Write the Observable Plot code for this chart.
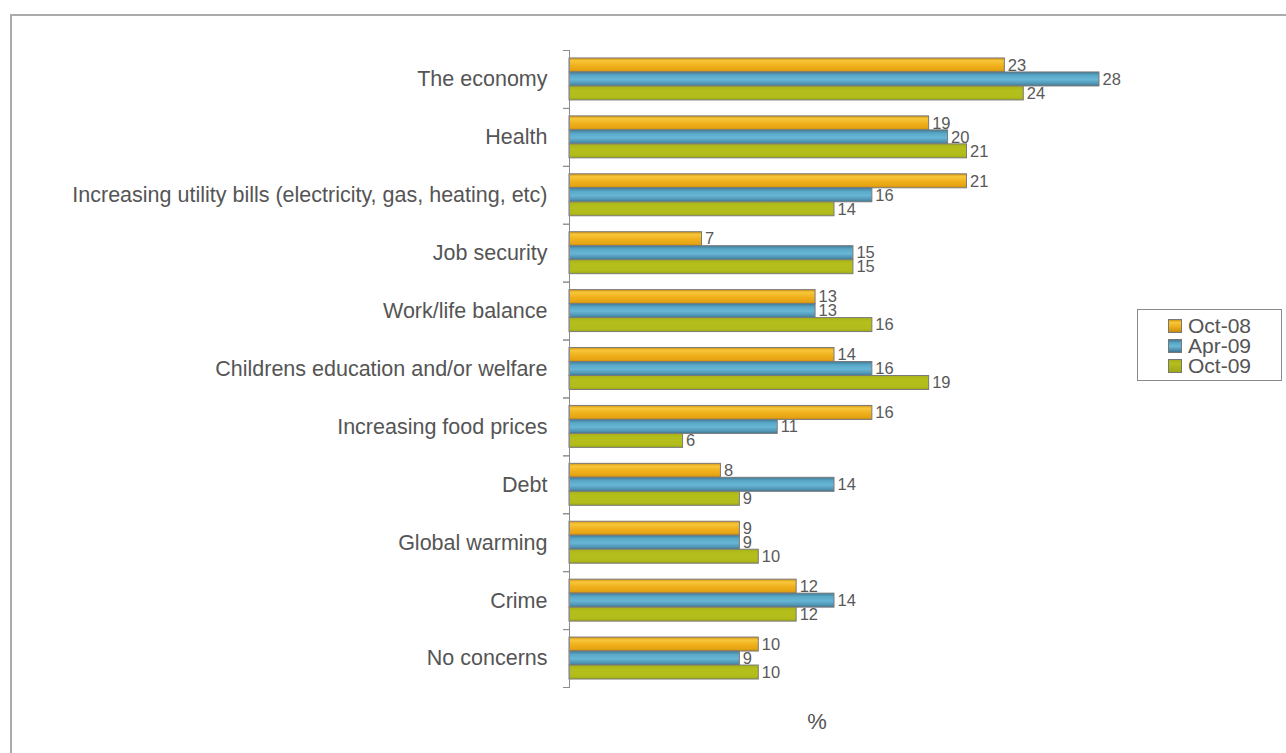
<!DOCTYPE html>
<html>
<head>
<meta charset="utf-8">
<script src="https://cdn.jsdelivr.net/npm/d3@7"></script>
<script src="https://cdn.jsdelivr.net/npm/@observablehq/plot@0.6"></script>
<style>
  html, body { margin: 0; padding: 0; background: #fff; }
  #wrap { position: relative; width: 1286px; height: 753px; overflow: hidden; font-family: "Liberation Sans", Arial, sans-serif; }
  #border { position: absolute; left: 10px; top: 14px; width: 1400px; height: 900px; border-left: 2px solid #ababab; border-top: 2px solid #ababab; box-sizing: border-box; }
  #chart { position: absolute; left: 0; top: 0; }
  #xlabel { position: absolute; left: 817px; top: 722px; transform: translate(-50%, -50%); font-size: 22px; color: #555; }
  #legend { position: absolute; left: 1137px; top: 309px; width: 145px; height: 72px; border: 1px solid #8a8a8a; box-sizing: border-box; background: #fff; padding-top: 6px; }
  .li { display: flex; align-items: center; height: 20px; padding-left: 30px; font-size: 21px; color: #555; }
  .sw { width: 12px; height: 12px; border: 1px solid #777; margin-right: 6px; flex: none; }
</style>
</head>
<body>
<div id="wrap">
  <div id="border"></div>
  <svg width="0" height="0" style="position:absolute">
    <defs>
      <linearGradient id="gOct08" x1="0" y1="0" x2="0" y2="1">
        <stop offset="0" stop-color="#d49410"/>
        <stop offset="0.2" stop-color="#f7c73a"/>
        <stop offset="0.55" stop-color="#f0b01c"/>
        <stop offset="0.85" stop-color="#e6a414"/>
        <stop offset="1" stop-color="#c88c0c"/>
      </linearGradient>
      <linearGradient id="gApr09" x1="0" y1="0" x2="0" y2="1">
        <stop offset="0" stop-color="#3e7c98"/>
        <stop offset="0.25" stop-color="#5aa8c8"/>
        <stop offset="0.55" stop-color="#68b6d6"/>
        <stop offset="0.85" stop-color="#4f93b2"/>
        <stop offset="1" stop-color="#3d7590"/>
      </linearGradient>
      <linearGradient id="gOct09" x1="0" y1="0" x2="0" y2="1">
        <stop offset="0" stop-color="#a8b218"/>
        <stop offset="0.3" stop-color="#b4bf1c"/>
        <stop offset="0.8" stop-color="#b2bc1a"/>
        <stop offset="1" stop-color="#9ea816"/>
      </linearGradient>
    </defs>
  </svg>
  <div id="chart"></div>
  <div id="xlabel">%</div>
  <div id="legend"></div>
</div>
<script>
const categories = [
  "The economy",
  "Health",
  "Increasing utility bills (electricity, gas, heating, etc)",
  "Job security",
  "Work/life balance",
  "Childrens education and/or welfare",
  "Increasing food prices",
  "Debt",
  "Global warming",
  "Crime",
  "No concerns"
];
const seriesNames = ["Oct-08", "Apr-09", "Oct-09"];
const oct08 = [23, 19, 21, 7, 13, 14, 16, 8, 9, 12, 10];
const apr09 = [28, 20, 16, 15, 13, 16, 11, 14, 9, 14, 9];
const oct09 = [24, 21, 14, 15, 16, 19, 6, 9, 10, 12, 10];

const seriesValues = [oct08, apr09, oct09];
const fills = ["url(#gOct08)", "url(#gApr09)", "url(#gOct09)"];
const swatchCss = [
  "linear-gradient(#d49410, #f7c73a 20%, #f0b01c 55%, #c88c0c)",
  "linear-gradient(#3e7c98, #5aa8c8 25%, #68b6d6 55%, #3d7590)",
  "linear-gradient(#a8b218, #b4bf1c 30%, #9ea816)"
];

const data = [];
categories.forEach((c, i) => {
  seriesNames.forEach((s, j) => {
    data.push({category: c, series: s, value: seriesValues[j][i]});
  });
});

const W = 1286, H = 753;
const mL = 569, mR = 187, mT = 50, mB = 66;
const plotW = (W - mR) - mL;

const chart = Plot.plot({
  width: W,
  height: H,
  marginLeft: mL,
  marginRight: mR,
  marginTop: mT,
  marginBottom: mB,
  style: {fontFamily: "'Liberation Sans', Arial, sans-serif", background: "transparent", overflow: "visible"},
  x: {domain: [0, 28], axis: null},
  y: {domain: seriesNames, paddingInner: 0, paddingOuter: 0.57, round: false, axis: null},
  fy: {domain: categories, padding: 0, round: false, axis: null, label: null},
  color: {domain: seriesNames, range: fills},
  marks: [
    Plot.barX(data, {x: "value", y: "series", fy: "category", fill: "series", stroke: "#7a7a7a", strokeWidth: 1}),
    Plot.text(data, {x: "value", y: "series", fy: "category", text: d => String(d.value), textAnchor: "start", dx: 3, fill: "#595959", fontSize: 16.5}),
    Plot.frame({anchor: "left", stroke: "#8c8c8c"}),
    Plot.frame({anchor: "top", stroke: "#8c8c8c", insetLeft: -6, insetRight: plotW}),
    Plot.frame({anchor: "bottom", stroke: "#8c8c8c", insetLeft: -6, insetRight: plotW}),
    Plot.axisFy({anchor: "left", tickSize: 0, tickPadding: 22, fontSize: 21.5, fill: "#555", label: null})
  ]
});
document.getElementById("chart").appendChild(chart);

const legend = document.getElementById("legend");
seriesNames.forEach((s, j) => {
  const row = document.createElement("div");
  row.className = "li";
  const sw = document.createElement("span");
  sw.className = "sw";
  sw.style.background = swatchCss[j];
  const t = document.createElement("span");
  t.textContent = s;
  row.appendChild(sw);
  row.appendChild(t);
  legend.appendChild(row);
});
</script>
</body>
</html>
